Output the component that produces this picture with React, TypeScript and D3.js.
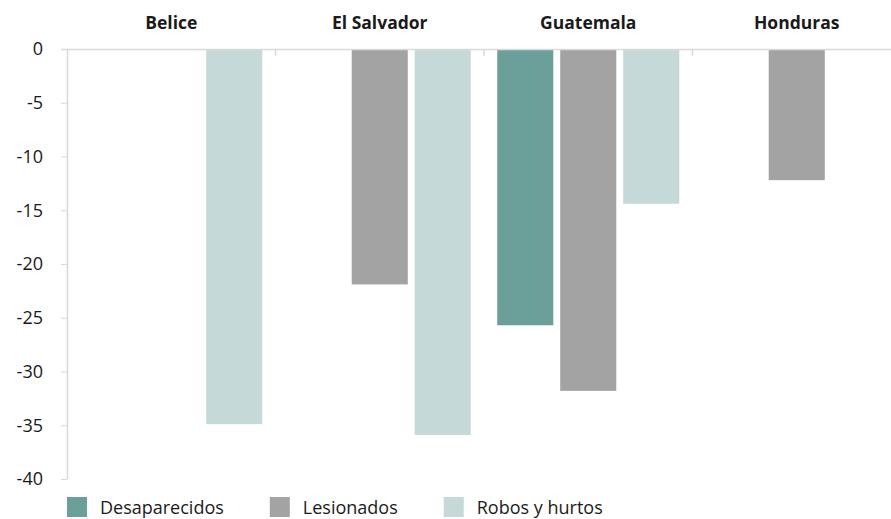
import React, { useEffect, useRef } from 'react';
import * as d3 from 'd3';

// Countries (top axis) and series
const countries = ['Belice', 'El Salvador', 'Guatemala', 'Honduras'];
const seriesNames = ['Desaparecidos', 'Lesionados', 'Robos y hurtos'];

// Values per series, aligned with countries (null = no bar)
const desaparecidos: (number | null)[] = [null, null, -25.7, null];
const lesionados: (number | null)[] = [null, -21.9, -31.8, -12.2];
const robosHurtos: (number | null)[] = [-34.9, -35.9, -14.4, null];

const yTicks = [0, -5, -10, -15, -20, -25, -30, -35, -40];
const colors = ['#6b9f99', '#a3a3a3', '#c5dad8'];

const FONT = '"Open Sans", Roboto, sans-serif';

export default function App() {
    const svgRef = useRef<SVGSVGElement>(null);

    useEffect(() => {
        if (!svgRef.current) return;
        const svg = d3.select(svgRef.current);
        svg.selectAll('*').remove();

        const width = 891;
        const height = 519;
        const margin = { top: 49, right: -10, bottom: 40, left: 67 };

        const x0 = d3.scaleBand<string>()
            .domain(countries)
            .range([margin.left, width - margin.right])
            .padding(0);

        const x1 = d3.scaleBand<string>()
            .domain(seriesNames)
            .range([0, x0.bandwidth()])
            .paddingInner(0.11)
            .paddingOuter(0.21);

        const y = d3.scaleLinear()
            .domain([0, -40])
            .range([margin.top, 479]);

        const allSeries = [desaparecidos, lesionados, robosHurtos];
        const bars = seriesNames.flatMap((s, si) =>
            countries.map((c, ci) => ({ series: s, si, country: c, value: allSeries[si][ci] }))
        ).filter(d => d.value !== null);

        // Bars
        svg.append('g')
            .selectAll('rect')
            .data(bars)
            .join('rect')
            .attr('x', d => (x0(d.country) ?? 0) + (x1(d.series) ?? 0))
            .attr('y', y(0))
            .attr('width', x1.bandwidth())
            .attr('height', d => y(d.value as number) - y(0))
            .attr('fill', d => colors[d.si]);

        // Y axis
        const yAxis = svg.append('g')
            .attr('transform', `translate(${margin.left},0)`)
            .call(d3.axisLeft(y).tickValues(yTicks).tickSize(6).tickPadding(18).tickFormat(d => String(d)));
        yAxis.select('.domain').attr('stroke', '#d9d9d9').attr('stroke-width', 1.5)
            .attr('d', `M0.5,${y(0)}V${y(-40)}`);
        yAxis.selectAll('.tick line').attr('stroke', '#d9d9d9');
        yAxis.selectAll('.tick text')
            .attr('font-family', FONT)
            .attr('font-size', 18)
            .attr('fill', '#1a1a1a');

        // Zero line
        svg.append('line')
            .attr('x1', margin.left - 6)
            .attr('x2', width)
            .attr('y1', y(0) + 0.5)
            .attr('y2', y(0) + 0.5)
            .attr('stroke', '#d9d9d9')
            .attr('stroke-width', 1.5);

        // Category boundary ticks
        svg.append('g')
            .selectAll('line')
            .data(countries.slice(1))
            .join('line')
            .attr('x1', d => (x0(d) ?? 0))
            .attr('x2', d => (x0(d) ?? 0))
            .attr('y1', y(0))
            .attr('y2', y(0) + 7)
            .attr('stroke', '#d9d9d9')
            .attr('stroke-width', 1.5);

        // Country labels on top
        svg.append('g')
            .selectAll('text')
            .data(countries)
            .join('text')
            .attr('x', d => (x0(d) ?? 0) + x0.bandwidth() / 2)
            .attr('y', 29)
            .attr('text-anchor', 'middle')
            .attr('font-family', FONT)
            .attr('font-weight', 700)
            .attr('font-size', 17.5)
            .attr('fill', '#1a1a1a')
            .text(d => d);

        // Legend
        const legend = svg.append('g').attr('transform', `translate(${margin.left},0)`);
        let lx = 0;
        seriesNames.forEach((s, i) => {
            const g = legend.append('g').attr('transform', `translate(${lx},0)`);
            g.append('rect')
                .attr('x', 0)
                .attr('y', 497)
                .attr('width', 20)
                .attr('height', 20)
                .attr('fill', colors[i]);
            const t = g.append('text')
                .attr('x', 33)
                .attr('y', 514)
                .attr('font-family', FONT)
                .attr('font-size', 18)
                .attr('fill', '#1a1a1a')
                .text(s);
            const w = (t.node() as SVGTextElement).getComputedTextLength();
            lx += 33 + w + 46;
        });
    }, []);

    return (
        <svg
            ref={svgRef}
            width={891}
            height={519}
            style={{ position: 'absolute', left: 0, top: 0, background: '#fff' }}
        />
    );
}
